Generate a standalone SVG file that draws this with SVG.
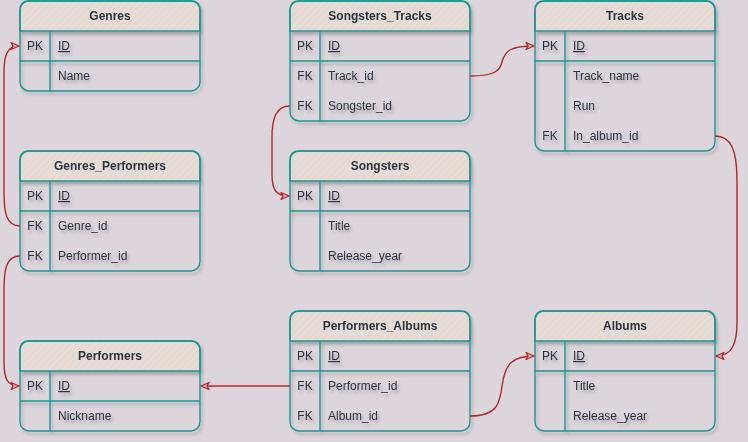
<svg xmlns="http://www.w3.org/2000/svg" width="748" height="442" viewBox="0 0 748 442">
<defs>
<pattern id="hatch" width="5" height="5" patternUnits="userSpaceOnUse" patternTransform="rotate(45)">
<rect width="5" height="5" fill="#E2D9D8"/>
<line x1="0" y1="0" x2="0" y2="5" stroke="#EDE1C9" stroke-width="2.4"/>
</pattern>
<filter id="sh" x="-10%" y="-10%" width="130%" height="130%">
<feDropShadow dx="2" dy="3" stdDeviation="1.5" flood-color="#000" flood-opacity="0.22"/>
</filter>
<marker id="arr" viewBox="0 0 10 10" refX="9" refY="5" markerWidth="10" markerHeight="10" markerUnits="userSpaceOnUse" orient="auto">
<path d="M1,1.5 L9,5 L1,8.5 L3,5 Z" fill="#E0B0B0" stroke="#B0282A" stroke-width="1.3" stroke-linejoin="round"/>
</marker>
</defs>
<style>
.bg{fill:#DCD5DC}
.box{fill:none;stroke:#1B9692;stroke-width:1.4}
.hdr{fill:url(#hatch);stroke:#1B9692;stroke-width:1.4}
.ln{stroke:#1B9692;stroke-width:1.4;fill:none}
text{font-family:"Liberation Sans",Arial,sans-serif;font-size:12px;fill:#2A3442}
.t{font-weight:bold;text-anchor:middle}
.k{text-anchor:middle}
.u{text-decoration:underline}
.c{fill:none;stroke:#B0282A;stroke-width:1.4;marker-end:url(#arr)}
</style>
<rect class="bg" width="748" height="442"/>

<g id="Genres" filter="url(#sh)">
<path class="hdr" d="M20,31 V10 Q20,1 29,1 H191 Q200,1 200,10 V31 Z"/>
<rect class="box" x="20" y="1" width="180" height="90" rx="9"/>
<path class="ln" d="M20,61 H200 M50,31 V91"/>
<text class="t" x="110" y="20">Genres</text>
<text class="k" x="35" y="50">PK</text><text class="u" x="58" y="50">ID</text>
<text x="58" y="80">Name</text>
</g>

<g id="Genres_Performers" filter="url(#sh)">
<path class="hdr" d="M20,181 V160 Q20,151 29,151 H191 Q200,151 200,160 V181 Z"/>
<rect class="box" x="20" y="151" width="180" height="120" rx="9"/>
<path class="ln" d="M20,211 H200 M50,181 V271"/>
<text class="t" x="110" y="170">Genres_Performers</text>
<text class="k" x="35" y="200">PK</text><text class="u" x="58" y="200">ID</text>
<text class="k" x="35" y="230">FK</text><text x="58" y="230">Genre_id</text>
<text class="k" x="35" y="260">FK</text><text x="58" y="260">Performer_id</text>
</g>

<g id="Performers" filter="url(#sh)">
<path class="hdr" d="M20,371 V350 Q20,341 29,341 H191 Q200,341 200,350 V371 Z"/>
<rect class="box" x="20" y="341" width="180" height="90" rx="9"/>
<path class="ln" d="M20,401 H200 M50,371 V431"/>
<text class="t" x="110" y="360">Performers</text>
<text class="k" x="35" y="390">PK</text><text class="u" x="58" y="390">ID</text>
<text x="58" y="420">Nickname</text>
</g>

<g id="Songsters_Tracks" filter="url(#sh)">
<path class="hdr" d="M290,31 V10 Q290,1 299,1 H461 Q470,1 470,10 V31 Z"/>
<rect class="box" x="290" y="1" width="180" height="120" rx="9"/>
<path class="ln" d="M290,61 H470 M320,31 V121"/>
<text class="t" x="380" y="20">Songsters_Tracks</text>
<text class="k" x="305" y="50">PK</text><text class="u" x="328" y="50">ID</text>
<text class="k" x="305" y="80">FK</text><text x="328" y="80">Track_id</text>
<text class="k" x="305" y="110">FK</text><text x="328" y="110">Songster_id</text>
</g>

<g id="Songsters" filter="url(#sh)">
<path class="hdr" d="M290,181 V160 Q290,151 299,151 H461 Q470,151 470,160 V181 Z"/>
<rect class="box" x="290" y="151" width="180" height="120" rx="9"/>
<path class="ln" d="M290,211 H470 M320,181 V271"/>
<text class="t" x="380" y="170">Songsters</text>
<text class="k" x="305" y="200">PK</text><text class="u" x="328" y="200">ID</text>
<text x="328" y="230">Title</text>
<text x="328" y="260">Release_year</text>
</g>

<g id="Tracks" filter="url(#sh)">
<path class="hdr" d="M535,31 V10 Q535,1 544,1 H706 Q715,1 715,10 V31 Z"/>
<rect class="box" x="535" y="1" width="180" height="150" rx="9"/>
<path class="ln" d="M535,61 H715 M565,31 V151"/>
<text class="t" x="625" y="20">Tracks</text>
<text class="k" x="550" y="50">PK</text><text class="u" x="573" y="50">ID</text>
<text x="573" y="80">Track_name</text>
<text x="573" y="110">Run</text>
<text class="k" x="550" y="140">FK</text><text x="573" y="140">In_album_id</text>
</g>

<g id="Performers_Albums" filter="url(#sh)">
<path class="hdr" d="M290,341 V320 Q290,311 299,311 H461 Q470,311 470,320 V341 Z"/>
<rect class="box" x="290" y="311" width="180" height="120" rx="9"/>
<path class="ln" d="M290,371 H470 M320,341 V431"/>
<text class="t" x="380" y="330">Performers_Albums</text>
<text class="k" x="305" y="360">PK</text><text class="u" x="328" y="360">ID</text>
<text class="k" x="305" y="390">FK</text><text x="328" y="390">Performer_id</text>
<text class="k" x="305" y="420">FK</text><text x="328" y="420">Album_id</text>
</g>

<g id="Albums" filter="url(#sh)">
<path class="hdr" d="M535,341 V320 Q535,311 544,311 H706 Q715,311 715,320 V341 Z"/>
<rect class="box" x="535" y="311" width="180" height="120" rx="9"/>
<path class="ln" d="M535,371 H715 M565,341 V431"/>
<text class="t" x="625" y="330">Albums</text>
<text class="k" x="550" y="360">PK</text><text class="u" x="573" y="360">ID</text>
<text x="573" y="390">Title</text>
<text x="573" y="420">Release_year</text>
</g>

<g id="connectors">
<path class="c" d="M20,226 C6,226 4,212 4,192 L4,72 C4,54 8,46 19,46"/>
<path class="c" d="M20,256 C6,256 4,270 4,290 L4,362 C4,380 8,386 19,386"/>
<path class="c" d="M290,106 C276,106 272,118 272,138 L272,174 C272,190 276,196 289,196"/>
<path class="c" d="M470,76 C496,76 500,70 502,62 C505,50 512,46 534,46"/>
<path class="c" d="M715,136 C731,136 737,150 737,180 L737,322 C737,344 732,356 716,356"/>
<path class="c" d="M290,386 L201,386"/>
<path class="c" d="M470,416 C498,416 500,402 502,386 C505,364 512,356 534,356"/>
</g>
</svg>
